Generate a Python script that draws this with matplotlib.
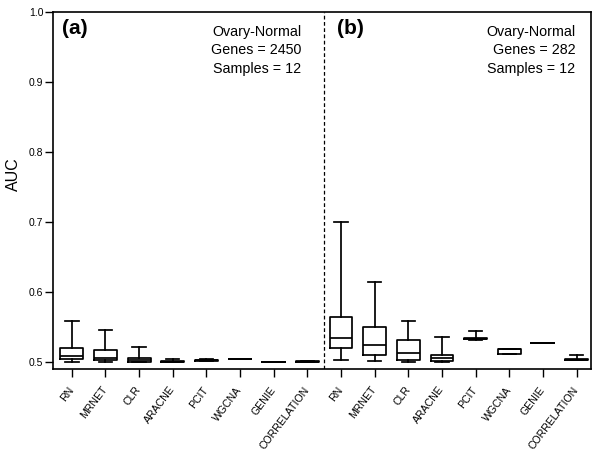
import matplotlib
matplotlib.use("Agg")
import matplotlib.pyplot as plt

plt.rcParams['font.family'] = ['Liberation Sans', 'DejaVu Sans']

methods = ["RN", "MRNET", "CLR", "ARACNE", "PCIT", "WGCNA", "GENIE", "CORRELATION"]

# panel (a): Genes = 2450
a_whislo = [0.500, 0.500, 0.5003, 0.4997, 0.5020, 0.5048, 0.5005, 0.5008]
a_q1     = [0.5043, 0.503, 0.5006, 0.5000, 0.5025, 0.5049, 0.5005, 0.5009]
a_med    = [0.509, 0.506, 0.5037, 0.5006, 0.5030, 0.5050, 0.5005, 0.5010]
a_q3     = [0.520, 0.5176, 0.5066, 0.5020, 0.5035, 0.5051, 0.5005, 0.5011]
a_whishi = [0.5594, 0.5466, 0.5223, 0.5050, 0.5044, 0.5052, 0.5005, 0.5012]

# panel (b): Genes = 282
b_whislo = [0.5033, 0.5023, 0.500, 0.500, 0.5325, 0.512, 0.5276, 0.5033]
b_q1     = [0.520, 0.510, 0.5037, 0.5023, 0.5327, 0.512, 0.5276, 0.5033]
b_med    = [0.535, 0.5251, 0.5137, 0.506, 0.5333, 0.5186, 0.5276, 0.5037]
b_q3     = [0.5643, 0.550, 0.5314, 0.510, 0.5340, 0.5186, 0.5276, 0.5040]
b_whishi = [0.700, 0.6151, 0.5586, 0.5361, 0.545, 0.5186, 0.5276, 0.510]

stats = []
for lo, q1, med, q3, hi in list(zip(a_whislo, a_q1, a_med, a_q3, a_whishi)) + \
        list(zip(b_whislo, b_q1, b_med, b_q3, b_whishi)):
    stats.append({"whislo": lo, "q1": q1, "med": med, "q3": q3, "whishi": hi, "fliers": []})

fig = plt.figure(figsize=(6, 4.61), dpi=100)
ax = fig.add_axes([0.0883, 0.1996, 0.8967, 0.774])

lw = 1.25
ax.bxp(stats, positions=range(1, 17), widths=0.68, showfliers=False,
       boxprops=dict(color="black", linewidth=lw),
       whiskerprops=dict(color="black", linewidth=lw),
       capprops=dict(color="black", linewidth=lw),
       medianprops=dict(color="black", linewidth=lw),
       capwidths=0.4)

ax.axvline(8.5, color="black", linestyle=(0, (3, 2)), linewidth=0.9)

ax.set_xlim(0.44, 16.43)
ax.set_ylim(0.4904, 1.0)
ax.set_yticks([0.5, 0.6, 0.7, 0.8, 0.9, 1.0])
ax.set_yticklabels(["0.5", "0.6", "0.7", "0.8", "0.9", "1.0"], fontsize=7.5)
ax.set_xticks(range(1, 17))
ax.set_xticklabels(methods + methods, rotation=53, ha="right", va="center",
                   rotation_mode="anchor", fontsize=7.6)
ax.tick_params(direction="out", length=5.5, width=1.0, color="black")
ax.tick_params(axis="y", pad=1.5)
ax.tick_params(axis="x", pad=8)
for s in ax.spines.values():
    s.set_linewidth(1.2)

fig.text(13.5 / 600, 1 - 174 / 461, "AUC", rotation=90, fontsize=11.5,
         ha="center", va="center")

ax.text(0.0165, 0.955, "(a)", transform=ax.transAxes, fontsize=15,
        fontweight="bold", ha="left", va="center")
ax.text(0.528, 0.955, "(b)", transform=ax.transAxes, fontsize=15,
        fontweight="bold", ha="left", va="center")

ax.text(0.461, 0.965, "Ovary-Normal\nGenes = 2450\nSamples = 12",
        transform=ax.transAxes, fontsize=10.3, ha="right", va="top",
        linespacing=1.42)
ax.text(0.971, 0.965, "Ovary-Normal\nGenes = 282\nSamples = 12",
        transform=ax.transAxes, fontsize=10.3, ha="right", va="top",
        linespacing=1.42)

fig.savefig("out.png", dpi=100)
